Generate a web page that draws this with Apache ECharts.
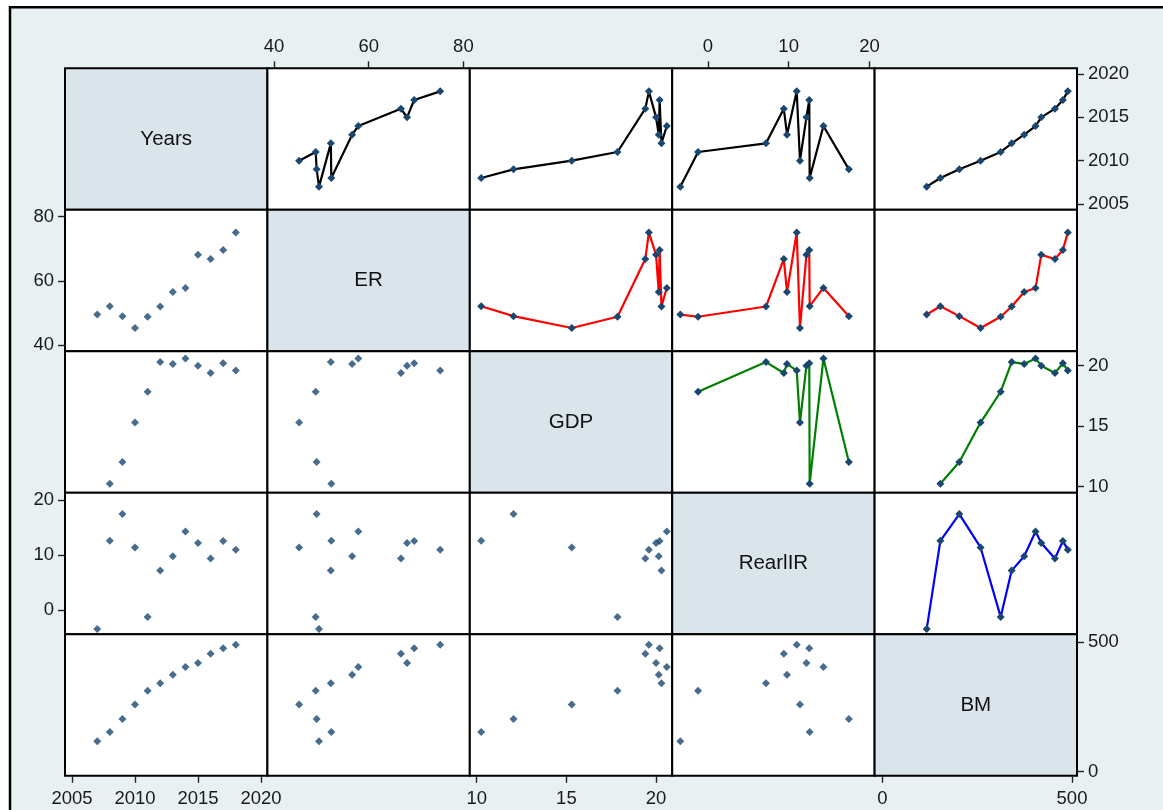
<!DOCTYPE html>
<html>
<head>
<meta charset="utf-8">
<script src="https://cdn.jsdelivr.net/npm/echarts@6/dist/echarts.min.js"></script>
<style>
  html, body { margin: 0; padding: 0; background: #ffffff; }
  #chart { width: 1163px; height: 810px; }
</style>
</head>
<body>
<div id="chart"></div>
<script>
// ---- data: one observation per year ----
const years  = [2007, 2008, 2009, 2010, 2011, 2012, 2013, 2014, 2015, 2016, 2017, 2018];
const er     = [49.5, 52.1, 49.0, 45.3, 48.8, 52.0, 56.5, 57.8, 68.1, 66.8, 69.6, 75.1];
const gdp    = [null, 10.25, 12.05, 15.3, 17.85, 20.3, 20.15, 20.6, 20.0, 19.4, 20.2, 19.6];
const realIR = [-3.4, 12.6, 17.45, 11.4, -1.2, 7.2, 9.8, 14.3, 12.2, 9.4, 12.55, 11.0];
const bm     = [117, 153, 203, 259, 312, 341, 374, 404, 419, 455, 476, 489];

const varNames = ['Years', 'ER', 'GDP', 'RearlIR', 'BM'];

// tick labels for each variable
const yearTicks = [2005, 2010, 2015, 2020];
const erTicks   = [40, 60, 80];
const gdpTicks  = [10, 15, 20];
const irTicks   = [0, 10, 20];
const bmTicks   = [0, 500];

// ---- layout ----
const vars   = [years, er, gdp, realIR, bm];
const ticks  = [yearTicks, erTicks, gdpTicks, irTicks, bmTicks];
const N = 5;
const LEFT = 65, TOP = 68.3, CW = 202.4, CH = 141.5;

// axis extents (horizontal use, vertical use)
const hRange = [[2004.44, 2020.51], [38.6, 81.35], [9.615, 20.9], [-4.4, 20.63], [-20.3, 513.2]];
const vRange = [[2004.33, 2020.66], [38.04, 82.15], [9.5, 21.19], [-4.35, 21.31], [-15.8, 529.7]];

// connecting-line colour for each row of the upper triangle
const rowLineColor = ['#000000', '#ff0000', '#008000', '#0000ff'];

const markerColor = '#1a476f';
const fontFamily = '"Liberation Sans", Arial, "DejaVu Sans", sans-serif';
const plainNumber = v => String(v);

const grids = [], xAxes = [], yAxes = [], series = [], graphics = [];

// outer graph region with its frame
graphics.push({
  type: 'rect',
  shape: { x: 10, y: 7.3, width: 1200, height: 850 },
  style: { fill: '#e8f0f2', stroke: '#000000', lineWidth: 2.5 },
  z: -10
});

for (let r = 0; r < N; r++) {
  for (let c = 0; c < N; c++) {
    const k = r * N + c;
    const diag = r === c;
    grids.push({
      left: LEFT + c * CW,
      top: TOP + r * CH,
      width: CW,
      height: CH,
      show: true,
      backgroundColor: diag ? '#d9e5eb' : '#ffffff',
      borderColor: '#000000',
      borderWidth: 2
    });

    const showX = (r === 0 && (c === 1 || c === 3)) || (r === N - 1 && (c === 0 || c === 2 || c === 4));
    const showY = (c === 0 && (r === 1 || r === 3)) || (c === N - 1 && (r === 0 || r === 2 || r === 4));

    xAxes.push({
      gridIndex: k,
      type: 'value',
      min: hRange[c][0],
      max: hRange[c][1],
      position: r === 0 ? 'top' : 'bottom',
      axisLine: { show: false, onZero: false },
      splitLine: { show: false },
      axisTick: {
        show: showX, customValues: ticks[c], length: 7, inside: false,
        lineStyle: { color: '#222222', width: 1.4 }
      },
      axisLabel: {
        show: showX, customValues: ticks[c], margin: r === 0 ? 12 : 14, formatter: plainNumber,
        fontSize: 18.5, color: '#1a1a1a', fontFamily: fontFamily
      }
    });
    yAxes.push({
      gridIndex: k,
      type: 'value',
      min: vRange[r][0],
      max: vRange[r][1],
      position: c === N - 1 ? 'right' : 'left',
      axisLine: { show: false, onZero: false },
      splitLine: { show: false },
      axisTick: {
        show: showY, customValues: ticks[r], length: 7, inside: false,
        lineStyle: { color: '#222222', width: 1.4 }
      },
      axisLabel: {
        show: showY, customValues: ticks[r], margin: 11, formatter: plainNumber,
        fontSize: 18.5, color: '#1a1a1a', fontFamily: fontFamily
      }
    });

    if (diag) {
      graphics.push({
        type: 'text',
        x: LEFT + c * CW + CW / 2,
        y: TOP + r * CH + CH / 2,
        style: {
          text: varNames[r], fill: '#111111', fontSize: 20.5, fontFamily: fontFamily,
          align: 'center', verticalAlign: 'middle'
        },
        z: 10
      });
      continue;
    }

    const pts = years
      .map((_, i) => [vars[c][i], vars[r][i]])
      .filter(p => p[0] !== null && p[1] !== null);

    if (r > c) {
      // lower triangle: plain scatter
      series.push({
        type: 'scatter',
        xAxisIndex: k, yAxisIndex: k,
        data: pts,
        symbol: 'diamond',
        symbolSize: 8,
        itemStyle: { color: markerColor },
        silent: true
      });
    } else {
      // upper triangle: points connected in order of the horizontal variable
      const sorted = pts.slice().sort((a, b) => a[0] - b[0]);
      series.push({
        type: 'line',
        xAxisIndex: k, yAxisIndex: k,
        data: sorted,
        symbol: 'diamond',
        symbolSize: 8,
        showSymbol: true,
        lineStyle: { color: rowLineColor[r], width: 2.2 },
        itemStyle: { color: markerColor },
        silent: true
      });
    }
  }
}

const chart = echarts.init(document.getElementById('chart'), null, { renderer: 'canvas' });
chart.setOption({
  animation: false,
  backgroundColor: '#ffffff',
  grid: grids,
  xAxis: xAxes,
  yAxis: yAxes,
  series: series,
  graphic: graphics
});
</script>
</body>
</html>
